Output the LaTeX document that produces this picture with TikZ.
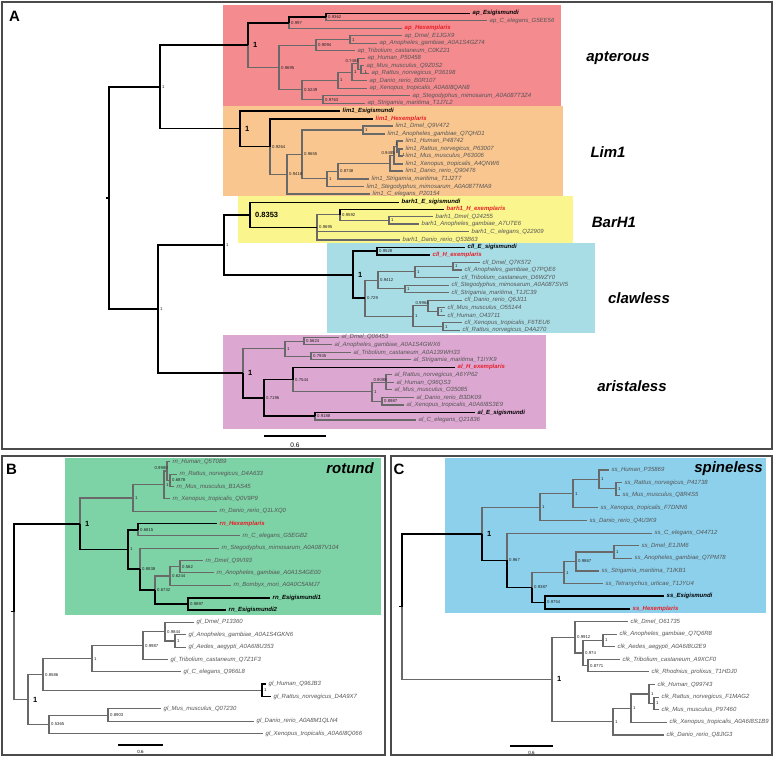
\documentclass[tikz,border=0pt]{standalone}
\usepackage{fontspec}
\setmainfont{Liberation Sans}
\definecolor{treegrey}{RGB}{105,105,105}
\definecolor{lblgrey}{RGB}{85,85,85}
\definecolor{hexred}{RGB}{232,30,40}
\definecolor{framegrey}{RGB}{75,75,75}
\definecolor{pinkA}{RGB}{243,139,143}
\definecolor{orangeA}{RGB}{249,198,143}
\definecolor{yellowA}{RGB}{250,245,140}
\definecolor{blueA}{RGB}{168,221,230}
\definecolor{mauveA}{RGB}{220,167,208}
\definecolor{greenB}{RGB}{125,210,166}
\definecolor{blueC}{RGB}{140,208,236}
\tikzset{
  gb/.style={draw=treegrey, line width=1.1pt},
  bb/.style={draw=black, line width=1.6pt},
  lbl/.style={anchor=west, inner sep=0pt, xshift=2.5pt, font=\fontsize{6}{6}\selectfont\itshape, text=lblgrey},
  lblE/.style={lbl, font=\fontsize{6}{6}\selectfont\bfseries\itshape, text=black},
  lblH/.style={lbl, font=\fontsize{6}{6}\selectfont\bfseries\itshape, text=hexred},
  sup/.style={anchor=west, inner sep=0pt, xshift=2pt, font=\fontsize{4.3}{4.3}\selectfont, text=black!85},
  supL/.style={sup, anchor=south east, xshift=-1pt, yshift=0.8pt},
  supD/.style={sup, anchor=north west, xshift=1.5pt, yshift=-0.6pt},
  supB/.style={sup, xshift=3pt, font=\fontsize{7.5}{7.5}\selectfont\bfseries, text=black},
  clade/.style={font=\fontsize{15}{15}\selectfont\bfseries\itshape, inner sep=0pt},
  panel/.style={font=\fontsize{15}{15}\selectfont\bfseries, inner sep=0pt},
  frame/.style={draw=framegrey, line width=1.2pt},
  scalebar/.style={draw=black, line width=1.2pt},
}
\newcommand\lf[5][lbl]{\coordinate (#2) at (#3,#4);\node[#1] (#2t) at (#2) {#5};}
\newcommand\nd[3]{\coordinate (#1) at (#2,#3);}
\newcommand\sv[3][sup]{\node[#1] (#2s) at (#2) {#3};}
\begin{document}
\begin{tikzpicture}[x=1pt,y=-1pt]
\fill[white] (0,0) rectangle (774,758);
\useasboundingbox (0,0) rectangle (774,758);
% ---------- clade boxes ----------
\fill[pinkA] (223,5) rectangle (561,106);
\fill[orangeA] (223,106) rectangle (563,196);
\fill[yellowA] (238,196) rectangle (573,243);
\fill[blueA] (327,243) rectangle (595,333);
\fill[mauveA] (223,335) rectangle (546,429);
\fill[greenB] (65,458) rectangle (381,615);
\fill[blueC] (445,458) rectangle (766,613);
% ---------- frames ----------
\draw[frame] (2,2) rectangle (772,449);
\draw[frame] (2,456) rectangle (385,755);
\draw[frame] (391,456) rectangle (772,755);
\node[panel] (pA) at (14.5,16) {A};
\node[panel] (pB) at (11.5,469) {B};
\node[panel] (pC) at (399,469) {C};
% ================= PANEL A =================
% apterous
\lf[lblE]{aE}{470}{13.3}{ap\_Esigismundi}
\lf{aC}{487}{20.8}{ap\_C\_elegans\_G5EE56}
\lf[lblH]{aH}{402}{28.3}{ap\_Hexemplaris}
\lf{aDm}{402}{35.8}{ap\_Dmel\_E1JGX9}
\lf{aAn}{377}{43.3}{ap\_Anopheles\_gambiae\_A0A1S4GZ74}
\lf{aTr}{355}{50.8}{ap\_Tribolium\_castaneum\_C0KZ21}
\lf{aHu}{365}{58.3}{ap\_Human\_P50458}
\lf{aMu}{364}{65.8}{ap\_Mus\_musculus\_Q9Z0S2}
\lf{aRa}{369}{73.3}{ap\_Rattus\_norvegicus\_P36198}
\lf{aDa}{367}{80.8}{ap\_Danio\_rerio\_B0R107}
\lf{aXe}{367}{88.3}{ap\_Xenopus\_tropicalis\_A0A6I8QAN8}
\lf{aSt}{410}{95.8}{ap\_Stegodyphus\_mimosarum\_A0A087T3Z4}
\lf{aSg}{365}{103.3}{ap\_Strigamia\_maritima\_T1J7L2}
\nd{an2}{326}{17.05}
\nd{an1}{289}{22.7}
\nd{aDA}{350}{39.55}
\nd{aIns}{316}{45.2}
\nd{aRM}{361}{69.55}
\nd{aHRM}{358}{63.9}
\nd{aHRMD}{352}{72.35}
\nd{aVt}{338}{80.3}
\nd{aSS}{323}{99.55}
\nd{aOth}{302}{89.9}
\nd{aRest}{279}{67.55}
\nd{aAP}{248}{45.1}
% lim1
\lf[lblE]{lE}{340}{110.7}{lim1\_Esigismundi}
\lf[lblH]{lH}{373}{119}{lim1\_Hexemplaris}
\lf{lDm}{393}{126}{lim1\_Dmel\_Q9V472}
\lf{lAn}{385}{134}{lim1\_Anopheles\_gambiae\_Q7QHD1}
\lf{lHu}{403}{141}{lim1\_Human\_P48742}
\lf{lRa}{403}{149}{lim1\_Rattus\_norvegicus\_P63007}
\lf{lMu}{403}{156}{lim1\_Mus\_musculus\_P63006}
\lf{lXe}{403}{164}{lim1\_Xenopus\_tropicalis\_A4QNW6}
\lf{lDa}{403}{171}{lim1\_Danio\_rerio\_Q90476}
\lf{lSg}{369}{179}{lim1\_Strigamia\_maritima\_T1J2T7}
\lf{lSt}{364}{186.7}{lim1\_Stegodyphus\_mimosarum\_A0A087TMA9}
\lf{lCe}{370}{194}{lim1\_C\_elegans\_P20154}
\nd{lRM}{399}{152.5}
\nd{lHRM}{397}{146.75}
\nd{lHRMX}{394}{155.4}
\nd{lVt}{390}{163.2}
\nd{lS}{338}{171.1}
\nd{lQ}{327}{178.9}
\nd{lDA}{363}{130}
\nd{lP}{302}{154.45}
\nd{lM}{287}{174.2}
\nd{lN}{270}{146.6}
\nd{lL}{240}{128.65}
\nd{aU}{160}{86.9}
% barh1
\lf[lblE]{bE}{399}{202.3}{barh1\_E\_sigismundi}
\lf[lblH]{bH}{444}{209.3}{barh1\_H\_exemplaris}
\lf{bDm}{433}{216.7}{barh1\_Dmel\_Q24255}
\lf{bAn}{419}{224}{barh1\_Anopheles\_gambiae\_A7UTE6}
\lf{bCe}{469}{231.7}{barh1\_C\_elegans\_Q22909}
\lf{bDa}{400}{240}{barh1\_Danio\_rerio\_Q53B63}
\nd{bDA}{389}{220.35}
\nd{b3}{340}{214.8}
\nd{b2}{317}{227.4}
\nd{bB}{250}{214.85}
% clawless
\lf[lblE]{cE}{465}{247.3}{cll\_E\_sigismundi}
\lf[lblH]{cH}{430}{254.85}{cll\_H\_exemplaris}
\lf{cDm}{480}{262.4}{cll\_Dmel\_Q7K572}
\lf{cAn}{462}{269.95}{cll\_Anopheles\_gambiae\_Q7PQE6}
\lf{cTr}{459}{277.5}{cll\_Tribolium\_castaneum\_D6WZY0}
\lf{cSt}{449}{285.05}{cll\_Stegodyphus\_mimosarum\_A0A087SVI5}
\lf{cSg}{449}{292.6}{cll\_Strigamia\_maritima\_T1JC39}
\lf{cDa}{462}{300.15}{cll\_Danio\_rerio\_Q6JI11}
\lf{cMu}{445}{307.7}{cll\_Mus\_musculus\_O55144}
\lf{cHu}{445}{315.25}{cll\_Human\_O43711}
\lf{cXe}{462}{322.8}{cll\_Xenopus\_tropicalis\_F6TEU6}
\lf{cRa}{460}{330.35}{cll\_Rattus\_norvegicus\_D4A270}
\nd{cDA}{453}{266.2}
\nd{cI}{415}{271.85}
\nd{cSS}{405}{288.8}
\nd{cAr}{378}{280.3}
\nd{cMH}{438}{311.5}
\nd{cDMH}{428}{305.8}
\nd{cXR}{443}{326.6}
\nd{cVt}{413}{316.2}
\nd{cRest}{365}{298.25}
\nd{cCE}{377}{251.1}
\nd{cC}{353}{274.7}
\nd{aBC}{224}{244.8}
% aristaless
\lf{rDm}{339}{337.3}{al\_Dmel\_Q06453}
\lf{rAn}{332}{344.8}{al\_Anopheles\_gambiae\_A0A1S4GWX6}
\lf{rTr}{351}{352.3}{al\_Tribolium\_castaneum\_A0A139WH33}
\lf{rSg}{411}{359.9}{al\_Strigamia\_maritima\_T1IYK9}
\lf[lblH]{rH}{455}{367.4}{al\_H\_exemplaris}
\lf{rRa}{392}{374.9}{al\_Rattus\_norvegicus\_A6YP62}
\lf{rHu}{394}{382.4}{al\_Human\_Q96QS3}
\lf{rMu}{392}{389.9}{al\_Mus\_musculus\_O35085}
\lf{rDa}{414}{397.4}{al\_Danio\_rerio\_B3DK09}
\lf{rXe}{404}{405.0}{al\_Xenopus\_tropicalis\_A0A6I8S3E9}
\lf[lblE]{rE}{475}{412.5}{al\_E\_sigismundi}
\lf{rCe}{416}{420.0}{al\_C\_elegans\_Q21836}
\nd{rDA}{304}{341.05}
\nd{rTS}{311}{356.1}
\nd{rA1}{285}{348.6}
\nd{rRHM}{386}{382.4}
\nd{rDX}{382}{401.2}
\nd{rV}{372}{391.8}
\nd{rL1}{293}{379.6}
\nd{rL2}{315}{416.25}
\nd{rL}{264}{397.9}
\nd{rAl}{243}{373.25}
\nd{aLo}{158}{309}
\nd{aRoot}{109}{197.95}
\nd{aRootL}{105.5}{197.95}
% grey branches A
\foreach \p/\c in {an2/aC, an1/aH, aAP/aRest, aRest/aIns, aIns/aDA, aDA/aDm, aDA/aAn, aIns/aTr,
  aRest/aOth, aOth/aVt, aVt/aHRMD, aHRMD/aHRM, aHRM/aHu, aHRM/aRM, aRM/aMu, aRM/aRa, aHRMD/aDa,
  aVt/aXe, aOth/aSS, aSS/aSt, aSS/aSg,
  lN/lM, lM/lP, lP/lDA, lDA/lDm, lDA/lAn, lP/lQ, lQ/lS, lS/lVt, lVt/lHRMX, lHRMX/lHRM, lHRM/lHu,
  lHRM/lRM, lRM/lRa, lRM/lMu, lHRMX/lXe, lVt/lDa, lS/lSg, lQ/lSt, lM/lCe,
  b2/b3, b3/bDA, bDA/bDm, bDA/bAn, b2/bCe, b2/bDa,
  cRest/cAr, cAr/cI, cI/cDA, cDA/cDm, cDA/cAn, cI/cTr, cAr/cSS, cSS/cSt, cSS/cSg, cRest/cVt,
  cVt/cDMH, cDMH/cDa, cDMH/cMH, cMH/cMu, cMH/cHu, cVt/cXR, cXR/cXe, cXR/cRa,
  rAl/rA1, rA1/rDA, rDA/rDm, rDA/rAn, rA1/rTS, rTS/rTr, rTS/rSg, rL1/rV, rV/rRHM, rRHM/rRa,
  rRHM/rHu, rRHM/rMu, rV/rDX, rDX/rDa, rDX/rXe, rL2/rCe}
  \draw[gb] (\p) |- (\c);
% black branches A
\foreach \p/\c in {aRoot/aU, aRoot/aLo, aU/aAP, aAP/an1, an1/an2, an2/aE,
  aU/lL, lL/lE, lL/lN, lN/lH, aLo/aBC, aLo/rAl, aBC/bB, aBC/cC, bB/bE, bB/b2, b3/bH,
  cC/cCE, cCE/cE, cCE/cH, cC/cRest, rAl/rL, rL/rL1, rL1/rH, rL/rL2, rL2/rE}
  \draw[bb] (\p) |- (\c);
\draw[bb] (aRootL) -- (aRoot);
% supports A
\sv{aU}{1}\sv{aLo}{1}\sv{aBC}{1}
\sv[supB]{aAP}{1}\sv{an1}{0.997}\sv{an2}{0.9362}\sv{aDA}{1}\sv{aIns}{0.9094}\sv{aRest}{0.9695}
\sv{aOth}{0.5249}\sv{aSS}{0.9763}\sv{aVt}{1}\sv{aHRMD}{1}\sv[supL]{aHRM}{0.7484}\sv[supD]{aRM}{1}
\sv[supB]{lL}{1}\sv{lN}{0.9264}\sv{lM}{0.9418}\sv{lP}{0.9655}\sv{lDA}{1}\sv{lQ}{1}\sv{lS}{0.8738}
\sv[supL]{lHRMX}{0.9485}\sv[supL]{lHRM}{1}\sv[supD]{lRM}{1}
\sv[supB]{bB}{0.8353}\sv{b2}{0.9695}\sv{b3}{0.9592}\sv{bDA}{1}
\sv[supB]{cC}{1}\sv{cCE}{0.9528}\sv{cRest}{0.729}\sv{cAr}{0.9412}\sv{cI}{1}\sv{cDA}{1}\sv{cSS}{1}
\sv{cVt}{1}\sv[supL]{cDMH}{0.9964}\sv{cMH}{1}\sv{cXR}{1}
\sv[supB]{rAl}{1}\sv{rA1}{1}\sv{rDA}{0.5624}\sv{rTS}{0.7935}\sv{rL}{0.7196}\sv{rL1}{0.7544}
\sv{rV}{1}\sv[supL]{rRHM}{0.9088}\sv{rDX}{0.8987}\sv{rL2}{0.9188}
% clade names
\node[clade] (nAp) at (618,58) {apterous};
\node[clade] (nLim) at (608,152) {Lim1};
\node[clade] (nBar) at (614,222) {BarH1};
\node[clade] (nCll) at (639,298) {clawless};
\node[clade] (nAl) at (632,386) {aristaless};
% scale bar A
\coordinate (sbA1) at (264,436);
\coordinate (sbA2) at (326,436);
\draw[scalebar] (sbA1) -- (sbA2);
\node[font=\fontsize{6.5}{6.5}\selectfont, inner sep=0pt] (sbAt) at (295,445) {0.6};
% ================= PANEL B =================
\lf{BHu}{170}{461.7}{rn\_Human\_Q5T0B9}
\lf{BRa}{177}{474.1}{rn\_Rattus\_norvegicus\_D4A633}
\lf{BMu}{174}{486.4}{rn\_Mus\_musculus\_B1AS45}
\lf{BXe}{170}{498.8}{rn\_Xenopus\_tropicalis\_Q0V9P9}
\lf{BDa}{217}{511.1}{rn\_Danio\_rerio\_Q1LXQ0}
\lf[lblH]{BrH}{217}{523.5}{rn\_Hexemplaris}
\lf{BCe}{240}{535.9}{rn\_C\_elegans\_G5EGB2}
\lf{BSt}{219}{548.2}{rn\_Stegodyphus\_mimosarum\_A0A087V104}
\lf{BDm}{203}{560.6}{rn\_Dmel\_Q9VI93}
\lf{BAn}{214}{572.9}{rn\_Anopheles\_gambiae\_A0A1S4GE00}
\lf{BBo}{231}{585.3}{rn\_Bombyx\_mori\_A0A0C5AMJ7}
\lf[lblE]{BE1}{270}{597.7}{rn\_Esigismundi1}
\lf[lblE]{BE2}{226}{610.0}{rn\_Esigismundi2}
\lf{BgDm}{194}{622.4}{gl\_Dmel\_P13360}
\lf{BgAn}{186}{634.8}{gl\_Anopheles\_gambiae\_A0A1S4GKN6}
\lf{BgAe}{186}{647.1}{gl\_Aedes\_aegypti\_A0A6I8U353}
\lf{BgTr}{168}{659.5}{gl\_Tribolium\_castaneum\_Q7Z1F3}
\lf{BgCe}{181}{671.8}{gl\_C\_elegans\_Q966L8}
\lf{BgHu}{266}{684.2}{gl\_Human\_Q96JB3}
\lf{BgRa}{271}{696.6}{gl\_Rattus\_norvegicus\_D4A9X7}
\lf{BgMu}{161}{708.9}{gl\_Mus\_musculus\_Q07230}
\lf{BgDa}{254}{721.3}{gl\_Danio\_rerio\_A0A8M1QLN4}
\lf{BgXe}{263}{733.6}{gl\_Xenopus\_tropicalis\_A0A6I8Q066}
\nd{BRM}{170}{480.25}
\nd{BHRM}{167}{471}
\nd{BVV}{164}{484.9}
\nd{BV}{133}{498}
\nd{BHC}{138}{529.7}
\nd{BDA}{180}{566.75}
\nd{BI}{170}{576}
\nd{BE}{188}{603.85}
\nd{BB3}{155}{589.9}
\nd{BB2}{140}{569.05}
\nd{BA}{128}{549.4}
\nd{Brn}{80}{523.7}
\nd{BAA}{175}{640.95}
\nd{BG5}{165}{631.7}
\nd{BG4}{143}{645.6}
\nd{BG3}{92}{658.7}
\nd{BHR}{262}{690.4}
\nd{BG1}{43}{674.55}
\nd{BMD}{108}{715.1}
\nd{BG2}{49}{724.35}
\nd{Bgl}{28}{699.45}
\nd{Broot}{14}{611.6}
\nd{BrootL}{10.5}{611.6}
\foreach \p/\c in {Broot/Bgl, Brn/BV, BV/BVV, BVV/BHRM, BHRM/BHu, BHRM/BRM, BRM/BRa, BRM/BMu,
  BVV/BXe, BV/BDa, BHC/BCe, BB2/BSt, BB3/BI, BI/BDA, BDA/BDm, BDA/BAn, BI/BBo,
  Bgl/BG1, BG1/BG3, BG3/BG4, BG4/BG5, BG5/BgDm, BG5/BAA, BAA/BgAn, BAA/BgAe, BG4/BgTr,
  BG3/BgCe, BG1/BHR, Bgl/BG2, BG2/BMD, BMD/BgMu, BMD/BgDa, BG2/BgXe}
  \draw[gb] (\p) |- (\c);
\foreach \p/\c in {Broot/Brn, Brn/BA, BA/BHC, BHC/BrH, BA/BB2, BB2/BB3, BB3/BE, BE/BE1, BE/BE2,
  BHR/BgHu, BHR/BgRa}
  \draw[bb] (\p) |- (\c);
\draw[bb] (BrootL) -- (Broot);
\sv{BRM}{0.6878}\sv[supL]{BHRM}{0.9980}\sv{BVV}{1}\sv{BV}{1}\sv{BHC}{0.6815}\sv{BA}{1}\sv{BB2}{0.8838}
\sv{BB3}{0.6732}\sv{BI}{0.6244}\sv{BDA}{0.562}\sv{BE}{0.9897}\sv[supB]{Brn}{1}
\sv{BG1}{0.8586}\sv{BG3}{1}\sv{BG4}{0.9987}\sv{BG5}{0.9844}\sv{BAA}{1}\sv{BHR}{1}
\sv{BG2}{0.5365}\sv{BMD}{0.8903}\sv[supB]{Bgl}{1}
\node[clade] (nRot) at (350,468.5) {rotund};
\coordinate (sbB1) at (118,745);
\coordinate (sbB2) at (163,745);
\draw[scalebar] (sbB1) -- (sbB2);
\node[font=\fontsize{4.5}{4.5}\selectfont, inner sep=0pt] (sbBt) at (140.5,752) {0.6};
% ================= PANEL C =================
\lf{CHu}{609}{470}{ss\_Human\_P35869}
\lf{CRa}{622}{482.6}{ss\_Rattus\_norvegicus\_P41738}
\lf{CMu}{620}{495.2}{ss\_Mus\_musculus\_Q8R4S5}
\lf{CXe}{598}{507.9}{ss\_Xenopus\_tropicalis\_F7DNN6}
\lf{CDa}{587}{520.5}{ss\_Danio\_rerio\_Q4U3K9}
\lf{CCe}{652}{533.1}{ss\_C\_elegans\_O44712}
\lf{CDm}{639}{545.7}{ss\_Dmel\_E1JIM6}
\lf{CAn}{632}{558.3}{ss\_Anopheles\_gambiae\_Q7PM78}
\lf{CSg}{599}{571.0}{ss\_Strigamia\_maritima\_T1IKB1}
\lf{CTe}{603}{583.6}{ss\_Tetranychus\_urticae\_T1JYU4}
\lf[lblE]{CE}{664}{596.2}{ss\_Esigismundi}
\lf[lblH]{CH}{630}{608.8}{ss\_Hexemplaris}
\lf{CkDm}{628}{621.4}{clk\_Dmel\_O61735}
\lf{CkAn}{617}{634.1}{clk\_Anopheles\_gambiae\_Q7Q6R8}
\lf{CkAe}{615}{646.7}{clk\_Aedes\_aegypti\_A0A6I8U2E9}
\lf{CkTr}{620}{659.3}{clk\_Tribolium\_castaneum\_A9XCF0}
\lf{CkRh}{649}{671.9}{clk\_Rhodnius\_prolixus\_T1HDJ0}
\lf{CkHu}{655}{684.5}{clk\_Human\_Q99743}
\lf{CkRa}{659}{697.2}{clk\_Rattus\_norvegicus\_F1MAG2}
\lf{CkMu}{659}{709.8}{clk\_Mus\_musculus\_P97460}
\lf{CkXe}{667}{722.4}{clk\_Xenopus\_tropicalis\_A0A6I8S1B9}
\lf{CkDa}{664}{735.0}{clk\_Danio\_rerio\_Q8JIG3}
\nd{CRM}{616}{488.9}
\nd{CHRM}{599}{479.45}
\nd{CSV2}{573}{493.7}
\nd{CSV}{540}{507.1}
\nd{CDA}{614}{552}
\nd{CDAS}{576}{561.5}
\nd{CArth}{564}{572.55}
\nd{CEH}{545}{602.5}
\nd{CS3}{532}{587.5}
\nd{CS2}{507}{560.3}
\nd{CS}{482}{533.7}
\nd{CAA}{603}{640.4}
\nd{CTR}{588}{665.6}
\nd{CKI2}{583}{653}
\nd{CKI}{575}{637.2}
\nd{CRM2}{654}{703.5}
\nd{CHRM2}{649}{694}
\nd{CKV2}{631}{708.2}
\nd{CKV}{613}{721.6}
\nd{CK}{552}{679.4}
\nd{Croot}{402}{606.55}
\nd{CrootL}{398.5}{606.55}
\foreach \p/\c in {Croot/CK, CS/CSV, CSV/CSV2, CSV2/CHRM, CHRM/CHu, CHRM/CRM, CRM/CRa, CRM/CMu,
  CSV2/CXe, CSV/CDa, CS2/CCe, CS3/CArth, CArth/CDAS, CDAS/CDA, CDA/CDm, CDA/CAn, CDAS/CSg,
  CArth/CTe, CK/CKI, CKI/CkDm, CKI/CKI2, CKI2/CAA, CAA/CkAn, CAA/CkAe, CKI2/CTR, CTR/CkTr,
  CTR/CkRh, CK/CKV, CKV/CKV2, CKV2/CHRM2, CHRM2/CkHu, CHRM2/CRM2, CRM2/CkRa, CRM2/CkMu,
  CKV2/CkXe, CKV/CkDa}
  \draw[gb] (\p) |- (\c);
\foreach \p/\c in {Croot/CS, CS/CS2, CS2/CS3, CS3/CEH, CEH/CE, CEH/CH}
  \draw[bb] (\p) |- (\c);
\draw[bb] (CrootL) -- (Croot);
\sv[supB]{CS}{1}\sv{CSV}{1}\sv{CSV2}{1}\sv{CHRM}{1}\sv{CRM}{1}\sv{CS2}{0.967}\sv{CS3}{0.9387}
\sv{CArth}{1}\sv{CDAS}{0.9867}\sv{CDA}{1}\sv{CEH}{0.9754}
\sv[supB]{CK}{1}\sv{CKI}{0.9912}\sv{CKI2}{0.974}\sv{CAA}{1}\sv{CTR}{0.8771}\sv{CKV}{1}
\sv{CKV2}{1}\sv{CHRM2}{1}\sv{CRM2}{1}
\node[clade] (nSs) at (728.5,468.5) {spineless};
\coordinate (sbC1) at (510,746);
\coordinate (sbC2) at (553,746);
\draw[scalebar] (sbC1) -- (sbC2);
\node[font=\fontsize{4.5}{4.5}\selectfont, inner sep=0pt] (sbCt) at (531.5,753) {0.6};
\end{tikzpicture}
\end{document}
